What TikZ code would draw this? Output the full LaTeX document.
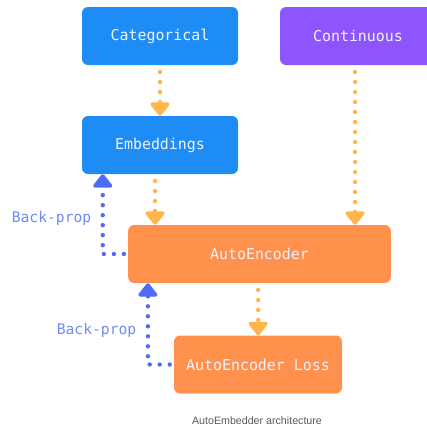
\documentclass[tikz,border=0pt]{standalone}
\usepackage{fontspec}
\setmainfont{Liberation Sans}
\setmonofont{DejaVu Sans Mono}
\usetikzlibrary{arrows.meta}
\usetikzlibrary{positioning}
\definecolor{catblue}{HTML}{1E8CF5}
\definecolor{contpurple}{HTML}{8E55FF}
\definecolor{aeorange}{HTML}{FF914D}
\definecolor{feedorange}{HTML}{FFB54A}
\definecolor{bpblue}{HTML}{4D6CF8}
\definecolor{boxtext}{HTML}{F2F2FF}

\begin{document}
\begin{tikzpicture}[x=0.75pt,y=-0.75pt,
  box/.style={rounded corners=4.5pt, minimum height=43.5pt, inner sep=0pt,
    text=boxtext, font=\ttfamily\fontsize{11.2}{13}\selectfont},
  feed/.style={draw=feedorange, line width=3.3pt, line cap=round,
    dash pattern=on 0pt off 7.5pt, shorten <=5pt,
    -{Triangle[width=16.5pt,length=11pt,round]}},
  backprop/.style={draw=bpblue, line width=3.3pt, line cap=round,
    dash pattern=on 0pt off 7.5pt, shorten <=3pt,
    -{Triangle[width=16.5pt,length=11pt,round]}},
  bplabel/.style={text=bpblue!80!white, font=\ttfamily\fontsize{11}{13}\selectfont}]
% page frame
\clip (0,0) rectangle (427,429);

% the boxes
\node[box, fill=catblue, minimum width=117pt] (cat) at (160,36) {Categorical};
\node[box, fill=contpurple, minimum width=117pt] (cont) at (358,36) {Continuous};
\node[box, fill=catblue, minimum width=117pt] (emb) at (160,145) {Embeddings};
\node[box, fill=aeorange, minimum width=197pt] (ae) at (259.5,254) {AutoEncoder};
\node[box, fill=aeorange, minimum width=126pt] (loss) at (258,364.5) {AutoEncoder Loss};

% forward flow
\draw[feed] (cat.south) -- (emb.north);
\draw[feed] ([xshift=-3.75pt]emb.south) -- ([xshift=-3.75pt]emb.south |- ae.north);
\draw[feed] ([xshift=-2.25pt]cont.south) -- ([xshift=-2.25pt]cont.south |- ae.north);
\draw[feed] ([xshift=-1pt]ae.south) -- ([xshift=-1pt]ae.south |- loss.north);

% back-propagation
\draw[backprop] (ae.west) -| ([xshift=15.75pt]emb.south west);
\draw[backprop] (loss.west) -| ([xshift=15pt]ae.south west);
\node[bplabel, anchor=east] (bp1) at (96,218) {Back-prop};
\node[bplabel, anchor=east] (bp2) at (141,330) {Back-prop};

\node[text=black!65, font=\fontsize{8}{9.5}\selectfont] (caption) at (257,421) {AutoEmbedder architecture};
\end{tikzpicture}
\end{document}
